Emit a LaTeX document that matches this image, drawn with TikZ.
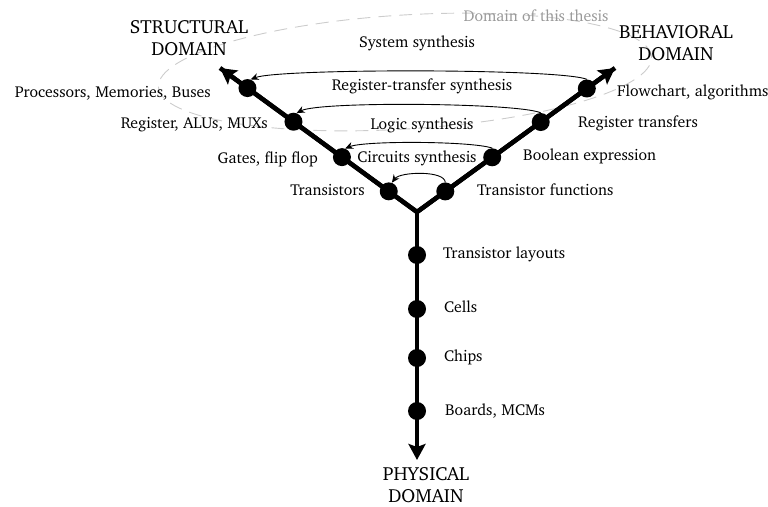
\documentclass[tikz,border=0pt]{standalone}
\usepackage[T1]{fontenc}
\usepackage{charter}
\usetikzlibrary{arrows.meta,calc}

\definecolor{ringgray}{gray}{0.8}
\definecolor{notegray}{gray}{0.6}

\begin{document}
\begin{tikzpicture}[x=1pt,y=-1pt,
  dot/.style={circle,fill=black,inner sep=0pt,minimum size=18pt},
  bigtip/.style={-{Stealth[length=16pt,width=17pt,inset=3pt]}},
  axis/.style={line width=4.5pt,line join=miter},
  lbl/.style={font=\fontsize{15.8}{18}\selectfont,inner sep=0pt,text height=0.72em,text depth=0.22em},
  dom/.style={font=\fontsize{19}{22}\selectfont,align=center,inner sep=0pt},
  syn/.style={line width=0.9pt,-{Stealth[length=8pt,width=7pt]}},
  ring/.style={ringgray,line width=0.9pt,dash pattern=on 13pt off 8pt}]

\useasboundingbox (0,0) rectangle (768,506);

% the domain covered by this work
\draw[ring,rotate around={3.5:(405,72)}] (405,72) ellipse [x radius=247pt, y radius=57pt];
\node[lbl,text=notegray] (thesis) at (536,19) {Domain of this thesis};

% the three axes of the Y-chart
\coordinate (j) at (417,212);
\coordinate (lt) at (220,68);
\coordinate (rt) at (615,68);
\coordinate (bt) at (417,460);
\draw[axis,bigtip] (j) -- (lt);
\draw[axis,bigtip] (j) -- (rt);
\draw[axis,bigtip] (j) -- (bt);
\draw[axis] (lt) -- (j) -- (rt);

% abstraction levels on the structural axis
\node[dot] (l1) at ($(j)!35pt!(lt)$) {};
\node[dot] (l2) at ($(j)!93pt!(lt)$) {};
\node[dot] (l3) at ($(j)!153pt!(lt)$) {};
\node[dot] (l4) at ($(j)!210pt!(lt)$) {};
% abstraction levels on the behavioral axis
\node[dot] (r1) at ($(j)!35pt!(rt)$) {};
\node[dot] (r2) at ($(j)!93pt!(rt)$) {};
\node[dot] (r3) at ($(j)!153pt!(rt)$) {};
\node[dot] (r4) at ($(j)!210pt!(rt)$) {};
% abstraction levels on the physical axis
\node[dot] (p1) at (417,255) {};
\node[dot] (p2) at (417,309) {};
\node[dot] (p3) at (417,358) {};
\node[dot] (p4) at (417,411) {};

% synthesis steps
\draw[syn] (r4.north) .. controls +(-28,-11) and +(28,-11) .. (l4.70);
\draw[syn] (r3.north) .. controls +(-23,-10) and +(23,-12) .. (l3.70);
\draw[syn] (r2.north) .. controls +(-20,-7) and +(20,-8) .. (l2.70);
\draw[syn] (r1.north) .. controls +(-1,-12) and +(8,-11) .. (l1.70);

\node[lbl] (s4) at (417,45) {System synthesis};
\node[lbl] (s3) at (422,88) {Register-transfer synthesis};
\node[lbl] (s2) at (422,127) {Logic synthesis};
\node[lbl] (s1) at (417,160) {Circuits synthesis};

% structural labels
\node[lbl,anchor=east] (tl4) at (211,95) {Processors, Memories, Buses};
\node[lbl,anchor=east] (tl3) at (268,126) {Register, ALUs, MUXs};
\node[lbl,anchor=east] (tl2) at (318,161) {Gates, flip flop};
\node[lbl,anchor=east] (tl1) at (365,193) {Transistors};
% behavioral labels
\node[lbl,anchor=west] (tr4) at (617,94) {Flowchart, algorithms};
\node[lbl,anchor=west] (tr3) at (578,125) {Register transfers};
\node[lbl,anchor=west] (tr2) at (523,158) {Boolean expression};
\node[lbl,anchor=west] (tr1) at (477,193) {Transistor functions};
% physical labels
\node[lbl,anchor=west] (tp1) at (443,256) {Transistor layouts};
\node[lbl,anchor=west] (tp2) at (444,310) {Cells};
\node[lbl,anchor=west] (tp3) at (444,359) {Chips};
\node[lbl,anchor=west] (tp4) at (445,413) {Boards, MCMs};

% domain names
\node[dom] (ds) at (189,38) {STRUCTURAL\\DOMAIN};
\node[dom] (db) at (676,43) {BEHAVIORAL\\DOMAIN};
\node[dom] (dp) at (426,485) {PHYSICAL\\DOMAIN};
\end{tikzpicture}
\end{document}
